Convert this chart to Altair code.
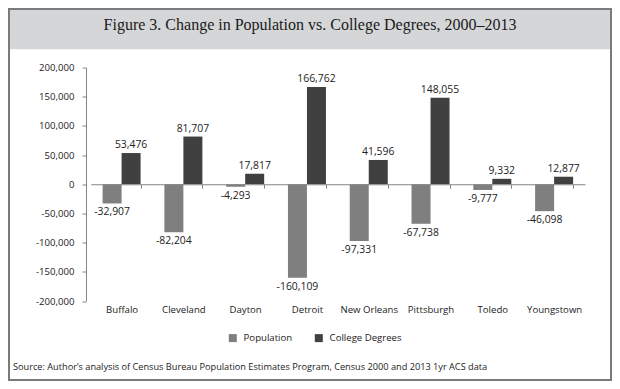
import altair as alt
import pandas as pd

cities = ["Buffalo", "Cleveland", "Dayton", "Detroit", "New Orleans",
          "Pittsburgh", "Toledo", "Youngstown"]
population = [-32907, -82204, -4293, -160109, -97331, -67738, -9777, -46098]
college = [53476, 81707, 17817, 166762, 41596, 148055, 9332, 12877]
series_names = ["Population", "College Degrees"]
y_ticks = [-200000, -150000, -100000, -50000, 0, 50000, 100000, 150000, 200000]
title_text = "Figure 3. Change in Population vs. College Degrees, 2000\u20132013"
source_text = ("Source: Author\u2019s analysis of Census Bureau Population Estimates Program, "
               "Census 2000 and 2013 1yr ACS data")

rows = []
for c, p, d in zip(cities, population, college):
    rows.append({"city": c, "series": "Population", "value": p, "label": f"{p:,}"})
    rows.append({"city": c, "series": "College Degrees", "value": d, "label": f"{d:,}"})
df = pd.DataFrame(rows)

W, H = 499, 233.5
PL, PT = 78, 59.5
TOTW, TOTH = 604, 373
SANS = "Open Sans"
GREY = "#858585"

x_enc = alt.X("city:N", sort=cities,
              scale=alt.Scale(range=[4.7, W], paddingInner=0.385, paddingOuter=0.1925),
              axis=alt.Axis(title=None, orient="bottom", offset=-H / 2, domainColor=GREY,
                            tickColor=GREY, tickSize=4, tickBand="extent", labelPadding=116,
                            labelAngle=0, labelFont=SANS, labelFontSize=9.6, labelColor="#222",
                            zindex=1))
xo_enc = alt.XOffset("series:N", sort=series_names,
                     scale=alt.Scale(paddingInner=0, paddingOuter=0))
y_enc = alt.Y("value:Q",
              scale=alt.Scale(domain=[-200000, 200000], nice=False),
              axis=alt.Axis(title=None, grid=False, values=y_ticks,
                            labelExpr="replace(format(datum.value, ','), '\u2212', '-')",
                            tickSize=4, labelPadding=8, domainColor=GREY, tickColor=GREY,
                            labelFont=SANS, labelFontSize=9.6, labelColor="#222"))

base = alt.Chart(df)

bars = base.mark_bar().encode(
    x=x_enc, xOffset=xo_enc, y=y_enc,
    color=alt.Color("series:N",
                    scale=alt.Scale(domain=series_names, range=["#7f7f7f", "#404040"]),
                    legend=alt.Legend(orient="none", legendX=142, legendY=265.5,
                                      direction="horizontal", title=None,
                                      symbolType="square", symbolSize=64,
                                      symbolStrokeWidth=0, labelFont=SANS,
                                      labelFontSize=9.6, labelColor="#222",
                                      labelOffset=6, columnPadding=21, padding=0)),
)

pos_text = base.transform_filter("datum.value >= 0").mark_text(
    baseline="bottom", dy=-3, font=SANS, fontSize=10.4, color="#222"
).encode(x=x_enc, xOffset=xo_enc, y=y_enc, text="label:N")

neg_text = base.transform_filter("datum.value < 0").mark_text(
    baseline="top", dy=4, font=SANS, fontSize=10.4, color="#222"
).encode(x=x_enc, xOffset=xo_enc, y=y_enc, text="label:N")

one = pd.DataFrame({"t": [title_text], "s": [source_text]})

band = alt.Chart(one).mark_rect(fill="#d5d6d8").encode(
    x=alt.value(-PL + 1), x2=alt.value(TOTW - PL - 1),
    y=alt.value(-PT + 1), y2=alt.value(41.3 - PT))

frame = alt.Chart(one).mark_rect(fill=None, stroke="#7a7a7a", strokeWidth=2).encode(
    x=alt.value(-PL + 1), x2=alt.value(TOTW - PL - 1),
    y=alt.value(-PT + 1), y2=alt.value(TOTH - PT - 1))

title = alt.Chart(one).mark_text(
    font="Liberation Serif", fontSize=16, color="#1a1a1a", align="center", baseline="middle"
).encode(x=alt.value(302 - PL), y=alt.value(17 - PT), text="t:N")

source = alt.Chart(one).mark_text(
    font=SANS, fontSize=9.2, color="#222", align="left", baseline="middle"
).encode(x=alt.value(5 - PL), y=alt.value(358.7 - PT), text="s:N")

chart = alt.layer(band, frame, title, source, bars, pos_text, neg_text).properties(
    width=W, height=H,
    padding={"left": PL, "top": PT, "right": TOTW - PL - W, "bottom": TOTH - PT - H},
    autosize=alt.AutoSizeParams(type="none"),
    background="white",
).configure_view(stroke=None)

chart.save("out.html", embed_options={"renderer": "svg", "actions": False})
